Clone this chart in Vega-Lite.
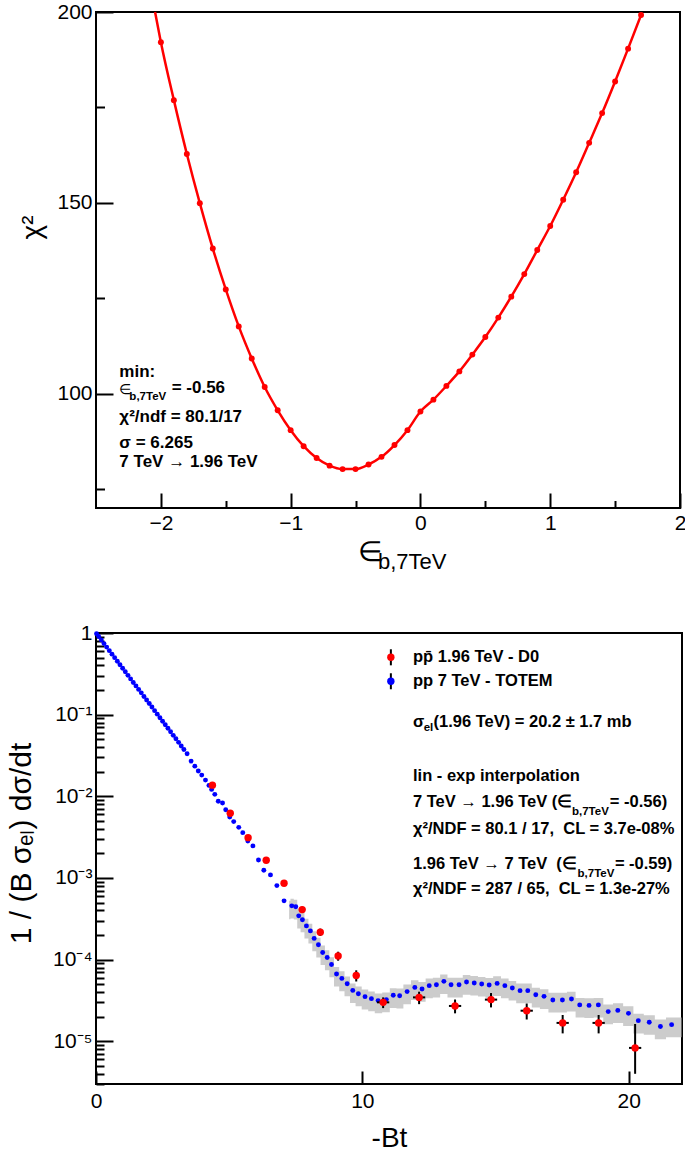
{
  "$schema": "https://vega.github.io/schema/vega-lite/v6.json",
  "background": "white",
  "padding": {"left": 5, "top": 0, "right": 3, "bottom": 5},
  "spacing": 46,
  "config": {
    "view": {"stroke": "black", "strokeWidth": 2},
    "axis": {"domain": false, "grid": false, "ticks": true, "tickColor": "black", "tickWidth": 2, "labelFont": "Liberation Sans", "labelFontSize": 21, "labelColor": "black", "labelFlush": false, "labelOverlap": false, "titleFont": "Liberation Sans", "titleFontSize": 28, "titleFontWeight": "normal", "titleColor": "black", "zindex": 1}
  },
  "datasets": {
    "chi2": [
      {"eps": -2.0, "chi2": 192.1}, {"eps": -1.9, "chi2": 176.9}, {"eps": -1.8, "chi2": 162.8}, {"eps": -1.7, "chi2": 149.9}, {"eps": -1.6, "chi2": 138.0}, {"eps": -1.5, "chi2": 127.3}, {"eps": -1.4, "chi2": 117.6}, {"eps": -1.3, "chi2": 109.2}, {"eps": -1.2, "chi2": 101.7}, {"eps": -1.1, "chi2": 95.6}, {"eps": -1.0, "chi2": 90.4}, {"eps": -0.9, "chi2": 86.2}, {"eps": -0.8, "chi2": 83.1}, {"eps": -0.7, "chi2": 81.1}, {"eps": -0.6, "chi2": 80.2}, {"eps": -0.5, "chi2": 80.2}, {"eps": -0.4, "chi2": 81.4}, {"eps": -0.3, "chi2": 83.4}, {"eps": -0.2, "chi2": 86.5}, {"eps": -0.1, "chi2": 90.4}, {"eps": 0.0, "chi2": 95.3}, {"eps": 0.1, "chi2": 98.4}, {"eps": 0.2, "chi2": 102.0}, {"eps": 0.3, "chi2": 105.8}, {"eps": 0.4, "chi2": 110.2}, {"eps": 0.5, "chi2": 114.8}, {"eps": 0.6, "chi2": 119.9}, {"eps": 0.7, "chi2": 125.4}, {"eps": 0.8, "chi2": 131.3}, {"eps": 0.9, "chi2": 137.6}, {"eps": 1.0, "chi2": 143.9}, {"eps": 1.1, "chi2": 150.8}, {"eps": 1.2, "chi2": 158.0}, {"eps": 1.3, "chi2": 165.7}, {"eps": 1.4, "chi2": 173.5}, {"eps": 1.5, "chi2": 181.8}, {"eps": 1.6, "chi2": 190.4}, {"eps": 1.7, "chi2": 199.2}
    ],
    "chi2line": [
      {"eps": -2.045, "chi2": 200.0},
      {"eps": -2.0, "chi2": 192.1}, {"eps": -1.9, "chi2": 176.9}, {"eps": -1.8, "chi2": 162.8}, {"eps": -1.7, "chi2": 149.9}, {"eps": -1.6, "chi2": 138.0}, {"eps": -1.5, "chi2": 127.3}, {"eps": -1.4, "chi2": 117.6}, {"eps": -1.3, "chi2": 109.2}, {"eps": -1.2, "chi2": 101.7}, {"eps": -1.1, "chi2": 95.6}, {"eps": -1.0, "chi2": 90.4}, {"eps": -0.9, "chi2": 86.2}, {"eps": -0.8, "chi2": 83.1}, {"eps": -0.7, "chi2": 81.1}, {"eps": -0.6, "chi2": 80.2}, {"eps": -0.5, "chi2": 80.2}, {"eps": -0.4, "chi2": 81.4}, {"eps": -0.3, "chi2": 83.4}, {"eps": -0.2, "chi2": 86.5}, {"eps": -0.1, "chi2": 90.4}, {"eps": 0.0, "chi2": 95.3}, {"eps": 0.1, "chi2": 98.4}, {"eps": 0.2, "chi2": 102.0}, {"eps": 0.3, "chi2": 105.8}, {"eps": 0.4, "chi2": 110.2}, {"eps": 0.5, "chi2": 114.8}, {"eps": 0.6, "chi2": 119.9}, {"eps": 0.7, "chi2": 125.4}, {"eps": 0.8, "chi2": 131.3}, {"eps": 0.9, "chi2": 137.6}, {"eps": 1.0, "chi2": 143.9}, {"eps": 1.1, "chi2": 150.8}, {"eps": 1.2, "chi2": 158.0}, {"eps": 1.3, "chi2": 165.7}, {"eps": 1.4, "chi2": 173.5}, {"eps": 1.5, "chi2": 181.8}, {"eps": 1.6, "chi2": 190.4}, {"eps": 1.7, "chi2": 199.2}
    ],
    "ann_top": [
      {"eps": -2.32, "chi2": 105.6, "t": "min:"},
      {"eps": -1.917, "chi2": 101.4, "t": "= -0.56"},
      {"eps": -2.32, "chi2": 93.9, "t": "χ²/ndf = 80.1/17"},
      {"eps": -2.32, "chi2": 87.0, "t": "σ = 6.265"},
      {"eps": -2.32, "chi2": 82.1, "t": "7 TeV → 1.96 TeV"}
    ],
    "ann_top_sym": [
      {"eps": -2.325, "chi2": 100.9, "t": "∈"}
    ],
    "ann_top_sub": [
      {"eps": -2.243, "chi2": 99.1, "t": "b,7TeV"}
    ],
    "ttl_top_main": [
      {"eps": -0.481, "chi2": 58.2, "t": "∈"}
    ],
    "ttl_top_sub": [
      {"eps": -0.327, "chi2": 55.8, "t": "b,7TeV"}
    ],
    "totem": [
      {"bt": 0.02, "v": 0.980}, {"bt": 0.1, "v": 0.905}, {"bt": 0.2, "v": 0.820}, {"bt": 0.3, "v": 0.742}, {"bt": 0.4, "v": 0.672}, {"bt": 0.5, "v": 0.608}, {"bt": 0.6, "v": 0.551}, {"bt": 0.7, "v": 0.499}, {"bt": 0.8, "v": 0.451}, {"bt": 0.9, "v": 0.409}, {"bt": 1.0, "v": 0.370}, {"bt": 1.1, "v": 0.335}, {"bt": 1.2, "v": 0.303}, {"bt": 1.3, "v": 0.274}, {"bt": 1.4, "v": 0.248}, {"bt": 1.5, "v": 0.225}, {"bt": 1.6, "v": 0.204}, {"bt": 1.7, "v": 0.185}, {"bt": 1.8, "v": 0.167}, {"bt": 1.9, "v": 0.151}, {"bt": 2.0, "v": 0.137}, {"bt": 2.1, "v": 0.124}, {"bt": 2.2, "v": 0.112}, {"bt": 2.3, "v": 0.1014}, {"bt": 2.4, "v": 0.0918}, {"bt": 2.5, "v": 0.0831}, {"bt": 2.6, "v": 0.0753}, {"bt": 2.7, "v": 0.0681}, {"bt": 2.8, "v": 0.0617}, {"bt": 2.9, "v": 0.0558}, {"bt": 3.0, "v": 0.0506}, {"bt": 3.1, "v": 0.0458}, {"bt": 3.2, "v": 0.0414}, {"bt": 3.3, "v": 0.0375},
      {"bt": 3.42, "v": 0.0332}, {"bt": 3.57, "v": 0.0270}, {"bt": 3.71, "v": 0.0234}, {"bt": 3.84, "v": 0.0204}, {"bt": 3.97, "v": 0.0182}, {"bt": 4.11, "v": 0.0158}, {"bt": 4.24, "v": 0.0136}, {"bt": 4.34, "v": 0.01216}, {"bt": 4.46, "v": 0.01057}, {"bt": 4.59, "v": 0.00869}, {"bt": 4.75, "v": 0.00828}, {"bt": 4.87, "v": 0.00685}, {"bt": 5.02, "v": 0.00558}, {"bt": 5.17, "v": 0.00490}, {"bt": 5.36, "v": 0.00417}, {"bt": 5.51, "v": 0.00359}, {"bt": 5.70, "v": 0.00284}, {"bt": 5.89, "v": 0.00247}, {"bt": 6.10, "v": 0.00166}, {"bt": 6.30, "v": 0.001245}, {"bt": 6.55, "v": 0.001091}, {"bt": 6.79, "v": 0.000807}, {"bt": 7.06, "v": 0.000525}, {"bt": 7.35, "v": 0.000456}, {"bt": 7.50, "v": 0.000444}, {"bt": 7.61, "v": 0.000344}, {"bt": 7.75, "v": 0.000308}, {"bt": 7.90, "v": 0.000259}, {"bt": 8.05, "v": 0.000225}, {"bt": 8.19, "v": 0.000182}, {"bt": 8.35, "v": 0.000152}, {"bt": 8.51, "v": 0.0001225}, {"bt": 8.68, "v": 0.0001064}, {"bt": 8.84, "v": 0.0000873}, {"bt": 9.03, "v": 0.0000667}, {"bt": 9.23, "v": 0.0000589}, {"bt": 9.43, "v": 0.0000507}, {"bt": 9.64, "v": 0.0000420}, {"bt": 9.85, "v": 0.0000383}, {"bt": 10.10, "v": 0.0000352}, {"bt": 10.34, "v": 0.0000333}, {"bt": 10.59, "v": 0.0000315}, {"bt": 10.90, "v": 0.0000324}, {"bt": 11.16, "v": 0.0000366}, {"bt": 11.40, "v": 0.0000362}, {"bt": 11.68, "v": 0.0000406}, {"bt": 11.97, "v": 0.0000457}, {"bt": 12.24, "v": 0.0000437}, {"bt": 12.51, "v": 0.0000480}, {"bt": 12.78, "v": 0.0000493}, {"bt": 13.06, "v": 0.0000542}, {"bt": 13.33, "v": 0.0000493}, {"bt": 13.63, "v": 0.0000493}, {"bt": 13.91, "v": 0.0000532}, {"bt": 14.20, "v": 0.0000518}, {"bt": 14.48, "v": 0.0000504}, {"bt": 14.76, "v": 0.0000489}, {"bt": 15.06, "v": 0.0000512}, {"bt": 15.35, "v": 0.0000480}, {"bt": 15.63, "v": 0.0000450}, {"bt": 15.92, "v": 0.0000417}, {"bt": 16.21, "v": 0.0000417}, {"bt": 16.51, "v": 0.0000372}, {"bt": 16.82, "v": 0.0000355}, {"bt": 17.15, "v": 0.0000321}, {"bt": 17.51, "v": 0.0000321}, {"bt": 17.85, "v": 0.0000330}, {"bt": 18.16, "v": 0.0000279}, {"bt": 18.51, "v": 0.0000275}, {"bt": 18.86, "v": 0.0000279}, {"bt": 19.23, "v": 0.0000231}, {"bt": 19.59, "v": 0.0000239}, {"bt": 19.99, "v": 0.0000220}, {"bt": 20.36, "v": 0.0000179}, {"bt": 20.77, "v": 0.0000171}, {"bt": 21.19, "v": 0.0000152}, {"bt": 21.61, "v": 0.0000160}
    ],
    "band": [
      {"bt": 7.25, "hi": 0.000525, "lo": 0.000312},
      {"bt": 7.35, "hi": 0.000556, "lo": 0.000319}, {"bt": 7.50, "hi": 0.000542, "lo": 0.000311}, {"bt": 7.61, "hi": 0.00042, "lo": 0.000241}, {"bt": 7.75, "hi": 0.000376, "lo": 0.000216}, {"bt": 7.90, "hi": 0.000316, "lo": 0.000181}, {"bt": 8.05, "hi": 0.000275, "lo": 0.000158}, {"bt": 8.19, "hi": 0.000222, "lo": 0.000127}, {"bt": 8.35, "hi": 0.000185, "lo": 0.000106}, {"bt": 8.51, "hi": 0.000149, "lo": 0.000086}, {"bt": 8.68, "hi": 0.00013, "lo": 0.000074}, {"bt": 8.84, "hi": 0.000107, "lo": 0.000061}, {"bt": 9.03, "hi": 0.000081, "lo": 0.000047}, {"bt": 9.23, "hi": 0.000072, "lo": 0.000041}, {"bt": 9.43, "hi": 0.000062, "lo": 0.0000355}, {"bt": 9.64, "hi": 0.000051, "lo": 0.0000294}, {"bt": 9.85, "hi": 0.000047, "lo": 0.0000268}, {"bt": 10.10, "hi": 0.000043, "lo": 0.0000246}, {"bt": 10.34, "hi": 0.0000406, "lo": 0.0000233}, {"bt": 10.59, "hi": 0.0000384, "lo": 0.000022}, {"bt": 10.90, "hi": 0.0000395, "lo": 0.0000227}, {"bt": 11.16, "hi": 0.0000447, "lo": 0.0000256}, {"bt": 11.40, "hi": 0.0000442, "lo": 0.0000253}, {"bt": 11.68, "hi": 0.0000495, "lo": 0.0000284}, {"bt": 11.97, "hi": 0.0000558, "lo": 0.000032}, {"bt": 12.24, "hi": 0.0000533, "lo": 0.0000306}, {"bt": 12.51, "hi": 0.0000586, "lo": 0.0000336}, {"bt": 12.78, "hi": 0.00006, "lo": 0.0000345}, {"bt": 13.06, "hi": 0.000066, "lo": 0.000038}, {"bt": 13.33, "hi": 0.00006, "lo": 0.0000345}, {"bt": 13.63, "hi": 0.00006, "lo": 0.0000345}, {"bt": 13.91, "hi": 0.000065, "lo": 0.0000372}, {"bt": 14.20, "hi": 0.000063, "lo": 0.0000363}, {"bt": 14.48, "hi": 0.0000615, "lo": 0.0000353}, {"bt": 14.76, "hi": 0.0000597, "lo": 0.0000342}, {"bt": 15.06, "hi": 0.0000625, "lo": 0.0000358}, {"bt": 15.35, "hi": 0.0000586, "lo": 0.0000336}, {"bt": 15.63, "hi": 0.0000549, "lo": 0.0000315}, {"bt": 15.92, "hi": 0.0000509, "lo": 0.0000292}, {"bt": 16.21, "hi": 0.0000509, "lo": 0.0000292}, {"bt": 16.51, "hi": 0.0000454, "lo": 0.000026}, {"bt": 16.82, "hi": 0.0000433, "lo": 0.0000249}, {"bt": 17.15, "hi": 0.0000392, "lo": 0.0000225}, {"bt": 17.51, "hi": 0.0000392, "lo": 0.0000225}, {"bt": 17.85, "hi": 0.0000403, "lo": 0.0000231}, {"bt": 18.16, "hi": 0.000034, "lo": 0.0000195}, {"bt": 18.51, "hi": 0.0000336, "lo": 0.0000193}, {"bt": 18.86, "hi": 0.000034, "lo": 0.0000195}, {"bt": 19.23, "hi": 0.0000282, "lo": 0.0000162}, {"bt": 19.59, "hi": 0.0000292, "lo": 0.0000167}, {"bt": 19.99, "hi": 0.0000268, "lo": 0.0000154}, {"bt": 20.36, "hi": 0.0000218, "lo": 0.0000125}, {"bt": 20.77, "hi": 0.0000209, "lo": 0.000012}, {"bt": 21.19, "hi": 0.0000185, "lo": 0.0000106}, {"bt": 21.61, "hi": 0.0000195, "lo": 0.0000112}, {"bt": 21.98, "hi": 0.0000195, "lo": 0.0000112}
    ],
    "d0": [
      {"bt": 4.37, "v": 0.0137, "lo": 0.0131, "hi": 0.0143, "xlo": 4.27, "xhi": 4.47},
      {"bt": 5.04, "v": 0.0062, "lo": 0.0059, "hi": 0.0065, "xlo": 4.94, "xhi": 5.14},
      {"bt": 5.71, "v": 0.00312, "lo": 0.00295, "hi": 0.0033, "xlo": 5.61, "xhi": 5.81},
      {"bt": 6.39, "v": 0.00165, "lo": 0.00155, "hi": 0.00176, "xlo": 6.29, "xhi": 6.49},
      {"bt": 7.06, "v": 0.00086, "lo": 0.0008, "hi": 0.00092, "xlo": 6.96, "xhi": 7.16},
      {"bt": 7.74, "v": 0.00041, "lo": 0.000375, "hi": 0.000445, "xlo": 7.64, "xhi": 7.84},
      {"bt": 8.42, "v": 0.000217, "lo": 0.000195, "hi": 0.00024, "xlo": 8.32, "xhi": 8.52},
      {"bt": 9.09, "v": 0.000111, "lo": 0.000097, "hi": 0.000125, "xlo": 8.99, "xhi": 9.19},
      {"bt": 9.77, "v": 0.000064, "lo": 0.000054, "hi": 0.000074, "xlo": 9.67, "xhi": 9.87},
      {"bt": 10.78, "v": 0.00003, "lo": 0.0000255, "hi": 0.0000345, "xlo": 10.55, "xhi": 11.01},
      {"bt": 12.13, "v": 0.0000345, "lo": 0.0000285, "hi": 0.0000405, "xlo": 11.9, "xhi": 12.36},
      {"bt": 13.48, "v": 0.0000271, "lo": 0.000022, "hi": 0.0000325, "xlo": 13.25, "xhi": 13.71},
      {"bt": 14.83, "v": 0.0000324, "lo": 0.000026, "hi": 0.000039, "xlo": 14.6, "xhi": 15.06},
      {"bt": 16.17, "v": 0.0000237, "lo": 0.0000185, "hi": 0.000029, "xlo": 15.94, "xhi": 16.4},
      {"bt": 17.52, "v": 0.0000168, "lo": 0.0000125, "hi": 0.000021, "xlo": 17.29, "xhi": 17.75},
      {"bt": 18.87, "v": 0.0000168, "lo": 0.0000125, "hi": 0.000021, "xlo": 18.64, "xhi": 19.1},
      {"bt": 20.24, "v": 0.0000083, "lo": 0.000004, "hi": 0.0000163, "xlo": 20.01, "xhi": 20.47}
    ],
    "legend": [
      {"bt": 11.07, "v": 0.504, "lo": 0.402, "hi": 0.632, "c": "#ff0000"},
      {"bt": 11.07, "v": 0.2564, "lo": 0.2046, "hi": 0.3213, "c": "#0000ff"}
    ],
    "ann_bot": [
      {"bt": 11.9, "v": 0.504, "t": "pp\u0304 1.96 TeV - D0"},
      {"bt": 11.9, "v": 0.2564, "t": "pp 7 TeV - TOTEM"},
      {"bt": 11.9, "v": 0.0807, "t": "σ"},
      {"bt": 12.67, "v": 0.0807, "t": "(1.96 TeV) = 20.2 ± 1.7 mb"},
      {"bt": 11.9, "v": 0.01762, "t": "lin - exp interpolation"},
      {"bt": 11.9, "v": 0.00847, "t": "7 TeV → 1.96 TeV (∈"},
      {"bt": 19.29, "v": 0.00847, "t": "= -0.56)"},
      {"bt": 11.9, "v": 0.003955, "t": "χ²/NDF = 80.1 / 17,\u00a0 CL = 3.7e-08%"},
      {"bt": 11.9, "v": 0.001476, "t": "1.96 TeV → 7 TeV\u00a0 (∈"},
      {"bt": 19.48, "v": 0.001476, "t": "= -0.59)"},
      {"bt": 11.9, "v": 0.00073, "t": "χ²/NDF = 287 / 65,\u00a0 CL = 1.3e-27%"}
    ],
    "ann_bot_sub": [
      {"bt": 12.3, "v": 0.0682, "t": "el"},
      {"bt": 17.87, "v": 0.0064, "t": "b,7TeV"},
      {"bt": 18.08, "v": 0.00111, "t": "b,7TeV"}
    ]
  },
  "vconcat": [
    {
      "width": 584,
      "height": 496,
      "layer": [
        {
          "data": {"name": "chi2line"},
          "mark": {"type": "line", "color": "#ff0000", "strokeWidth": 2.5, "interpolate": "monotone"},
          "encoding": {
            "x": {"field": "eps", "type": "quantitative", "scale": {"domain": [-2.5, 2], "nice": false, "zero": false},
                  "axis": {"orient": "bottom", "values": [-2, -1, 0, 1, 2], "tickSize": -15, "labelPadding": 19, "title": null}},
            "y": {"field": "chi2", "type": "quantitative", "scale": {"domain": [70, 200], "nice": false, "zero": false},
                  "axis": {"orient": "left", "values": [100, 150, 200], "tickSize": -17, "labelPadding": 21, "title": "χ²", "titleX": -64, "titleY": 215, "titleAngle": 270, "titleAlign": "center", "titleBaseline": "middle"}}
          }
        },
        {
          "data": {"name": "chi2"},
          "mark": {"type": "circle", "color": "#ff0000", "size": 35, "opacity": 1},
          "encoding": {
            "x": {"field": "eps", "type": "quantitative", "axis": null},
            "y": {"field": "chi2", "type": "quantitative", "axis": null}
          }
        },
        {
          "data": {"name": "chi2"},
          "mark": {"type": "point", "opacity": 0},
          "encoding": {
            "x": {"field": "eps", "type": "quantitative", "axis": {"orient": "bottom", "values": [-1.5, -0.5, 0.5, 1.5], "tickSize": -7.5, "labels": false, "title": null}},
            "y": {"field": "chi2", "type": "quantitative", "axis": {"orient": "left", "values": [75, 125, 175], "tickSize": -8.5, "labels": false, "title": null}}
          }
        },
        {
          "data": {"name": "ann_top"},
          "mark": {"type": "text", "align": "left", "baseline": "middle", "font": "Liberation Sans", "fontWeight": "bold", "fontSize": 17, "color": "black"},
          "encoding": {
            "x": {"field": "eps", "type": "quantitative", "axis": null},
            "y": {"field": "chi2", "type": "quantitative", "axis": null},
            "text": {"field": "t"}
          }
        },
        {
          "data": {"name": "ann_top_sym"},
          "mark": {"type": "text", "align": "left", "baseline": "middle", "font": "Liberation Sans", "fontSize": 14, "color": "black"},
          "encoding": {
            "x": {"field": "eps", "type": "quantitative", "axis": null},
            "y": {"field": "chi2", "type": "quantitative", "axis": null},
            "text": {"field": "t"}
          }
        },
        {
          "data": {"name": "ann_top_sub"},
          "mark": {"type": "text", "align": "left", "baseline": "middle", "font": "Liberation Sans", "fontWeight": "bold", "fontSize": 11.5, "color": "black"},
          "encoding": {
            "x": {"field": "eps", "type": "quantitative", "axis": null},
            "y": {"field": "chi2", "type": "quantitative", "axis": null},
            "text": {"field": "t"}
          }
        },
        {
          "data": {"name": "ttl_top_main"},
          "mark": {"type": "text", "align": "left", "baseline": "middle", "font": "Liberation Sans", "fontSize": 28, "color": "black"},
          "encoding": {
            "x": {"field": "eps", "type": "quantitative", "axis": null},
            "y": {"field": "chi2", "type": "quantitative", "axis": null},
            "text": {"field": "t"}
          }
        },
        {
          "data": {"name": "ttl_top_sub"},
          "mark": {"type": "text", "align": "left", "baseline": "middle", "font": "Liberation Sans", "fontSize": 22, "color": "black"},
          "encoding": {
            "x": {"field": "eps", "type": "quantitative", "axis": null},
            "y": {"field": "chi2", "type": "quantitative", "axis": null},
            "text": {"field": "t"}
          }
        }
      ],
      "resolve": {"axis": {"x": "independent", "y": "independent"}}
    },
    {
      "width": 586,
      "height": 451,
      "layer": [
        {
          "data": {"name": "band"},
          "mark": {"type": "area", "interpolate": "step", "color": "#cccccc", "opacity": 1},
          "encoding": {
            "x": {"field": "bt", "type": "quantitative", "scale": {"domain": [0, 22], "nice": false, "zero": false},
                  "axis": {"orient": "bottom", "values": [0, 10, 20], "tickSize": -13, "labelPadding": 19, "title": "-Bt", "titleY": 54, "titleBaseline": "middle"}},
            "y": {"field": "hi", "type": "quantitative", "scale": {"type": "log", "domain": [0.000003, 1], "nice": false},
                  "axis": {"orient": "left", "values": [1, 0.1, 0.01, 0.001, 0.0001, 0.00001], "labelExpr": "datum.value > 0.5 ? '1' : '10⁻' + ['', '¹', '²', '³', '⁴', '⁵'][round(-log(datum.value) / LN10)]", "tickSize": -17, "labelPadding": 21, "title": "1 / (B σₑₗ)  dσ/dt", "titleFontSize": 30, "titleX": -75, "titleY": 210, "titleAngle": 270, "titleAlign": "center", "titleBaseline": "middle"}},
            "y2": {"field": "lo"}
          }
        },
        {
          "data": {"name": "totem"},
          "mark": {"type": "circle", "color": "#0000ff", "size": 24, "opacity": 1},
          "encoding": {
            "x": {"field": "bt", "type": "quantitative", "axis": null},
            "y": {"field": "v", "type": "quantitative", "axis": null}
          }
        },
        {
          "data": {"name": "d0"},
          "mark": {"type": "rule", "color": "black", "strokeWidth": 2},
          "encoding": {
            "x": {"field": "bt", "type": "quantitative", "axis": null},
            "y": {"field": "lo", "type": "quantitative", "axis": null},
            "y2": {"field": "hi"}
          }
        },
        {
          "data": {"name": "d0"},
          "mark": {"type": "rule", "color": "black", "strokeWidth": 2},
          "encoding": {
            "x": {"field": "xlo", "type": "quantitative", "axis": null},
            "x2": {"field": "xhi"},
            "y": {"field": "v", "type": "quantitative", "axis": null}
          }
        },
        {
          "data": {"name": "d0"},
          "mark": {"type": "circle", "color": "#ff0000", "size": 55, "opacity": 1},
          "encoding": {
            "x": {"field": "bt", "type": "quantitative", "axis": null},
            "y": {"field": "v", "type": "quantitative", "axis": null}
          }
        },
        {
          "data": {"name": "legend"},
          "mark": {"type": "rule", "color": "black", "strokeWidth": 2},
          "encoding": {
            "x": {"field": "bt", "type": "quantitative", "axis": null},
            "y": {"field": "lo", "type": "quantitative", "axis": null},
            "y2": {"field": "hi"}
          }
        },
        {
          "data": {"name": "legend"},
          "mark": {"type": "circle", "size": 55, "opacity": 1},
          "encoding": {
            "x": {"field": "bt", "type": "quantitative", "axis": null},
            "y": {"field": "v", "type": "quantitative", "axis": null},
            "color": {"field": "c", "type": "nominal", "scale": null}
          }
        },
        {
          "data": {"name": "ann_bot"},
          "mark": {"type": "text", "align": "left", "baseline": "middle", "font": "Liberation Sans", "fontWeight": "bold", "fontSize": 16.5, "color": "black"},
          "encoding": {
            "x": {"field": "bt", "type": "quantitative", "axis": null},
            "y": {"field": "v", "type": "quantitative", "axis": null},
            "text": {"field": "t"}
          }
        },
        {
          "data": {"name": "ann_bot_sub"},
          "mark": {"type": "text", "align": "left", "baseline": "middle", "font": "Liberation Sans", "fontWeight": "bold", "fontSize": 11.5, "color": "black"},
          "encoding": {
            "x": {"field": "bt", "type": "quantitative", "axis": null},
            "y": {"field": "v", "type": "quantitative", "axis": null},
            "text": {"field": "t"}
          }
        },
        {
          "data": {"name": "totem"},
          "mark": {"type": "point", "opacity": 0},
          "encoding": {
            "x": {"field": "bt", "type": "quantitative", "axis": null},
            "y": {"field": "v", "type": "quantitative", "axis": {"orient": "left", "values": [0.9, 0.8, 0.7, 0.6, 0.5, 0.4, 0.3, 0.2, 0.09, 0.08, 0.07, 0.06, 0.05, 0.04, 0.03, 0.02, 0.009, 0.008, 0.007, 0.006, 0.005, 0.004, 0.003, 0.002, 0.0009, 0.0008, 0.0007, 0.0006, 0.0005, 0.0004, 0.0003, 0.0002, 0.00009, 0.00008, 0.00007, 0.00006, 0.00005, 0.00004, 0.00003, 0.00002, 0.000009, 0.000008, 0.000007, 0.000006, 0.000005, 0.000004, 0.000003], "tickSize": -8, "labels": false, "title": null}}
          }
        }
      ],
      "resolve": {"axis": {"x": "independent", "y": "independent"}}
    }
  ]
}
